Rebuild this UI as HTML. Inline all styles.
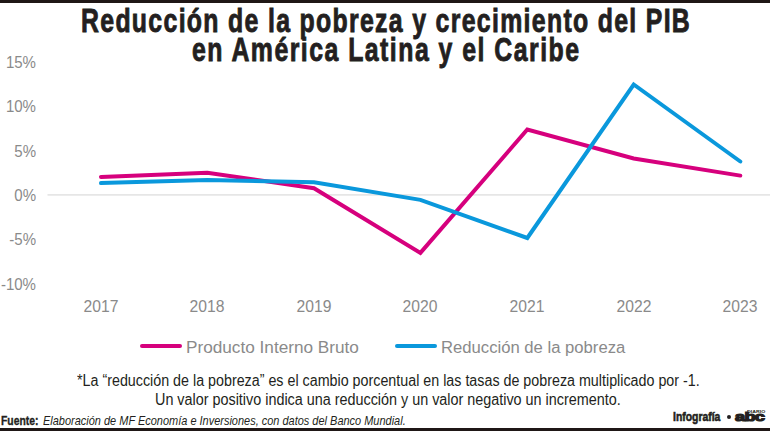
<!DOCTYPE html>
<html><head><meta charset="utf-8">
<style>
html,body{margin:0;padding:0;background:#fff;}
body{width:770px;height:431px;position:relative;overflow:hidden;font-family:"Liberation Sans",Arial,sans-serif;}
.t{position:absolute;white-space:nowrap;transform-origin:0 0;line-height:1;}
.bar{position:absolute;left:0;width:770px;background:#1f1716;}
.title{font-weight:bold;color:#231f20;font-size:34px;-webkit-text-stroke:0.9px #231f20;}
.ay{color:#8a8a8a;font-size:16px;width:60px;text-align:right;transform-origin:100% 0;}
.ax{color:#8a8a8a;font-size:16px;transform-origin:50% 0;}
.lg{color:#8a8a8a;font-size:16px;}
.fn{color:#231f20;font-size:16px;}
.src{color:#231f20;font-size:13px;}
</style></head><body>
<div class="bar" style="top:0;height:3px"></div>
<div class="bar" style="top:428px;height:3px"></div>
<div id="t1" class="t title" style="left:80.5px;top:3.2px;letter-spacing:1.82px;transform:scaleX(0.73)">Reducción de la pobreza y crecimiento del PIB</div>
<div id="t2" class="t title" style="left:191.5px;top:32.4px;letter-spacing:2.04px;transform:scaleX(0.73)">en América Latina y el Caribe</div>
<svg style="position:absolute;left:0;top:0" width="770" height="431">
<line x1="47.5" y1="194.9" x2="770" y2="194.9" stroke="#e6e6e6" stroke-width="1.6"/>
<polyline fill="none" stroke="#d6007d" stroke-width="4" stroke-linecap="round" stroke-linejoin="miter" points="101,176.9 207.3,172.8 314,188.2 420.4,252.9 527.3,129.5 633.7,158.5 740.3,175.6"/>
<polyline fill="none" stroke="#0a98dc" stroke-width="4" stroke-linecap="round" stroke-linejoin="miter" points="101,183.1 207.3,180.0 314,182.2 420.4,199.9 527.3,238.0 633.7,84.5 740.3,161.5"/>
<line x1="142" y1="346" x2="180" y2="346" stroke="#d6007d" stroke-width="4" stroke-linecap="round"/>
<line x1="397" y1="346" x2="435" y2="346" stroke="#0a98dc" stroke-width="4" stroke-linecap="round"/>
</svg>
<div id="y0" class="t ay" style="left:-24.5px;top:54.7px;transform:scaleX(0.94)">15%</div>
<div id="y1" class="t ay" style="left:-24.5px;top:99.1px;transform:scaleX(0.94)">10%</div>
<div id="y2" class="t ay" style="left:-24.5px;top:143.5px;transform:scaleX(0.94)">5%</div>
<div id="y3" class="t ay" style="left:-24.5px;top:187.9px;transform:scaleX(0.94)">0%</div>
<div id="y4" class="t ay" style="left:-24.5px;top:232.3px;transform:scaleX(0.94)">-5%</div>
<div id="y5" class="t ay" style="left:-24.5px;top:276.7px;transform:scaleX(0.94)">-10%</div>
<div id="x2017" class="t ax" style="left:101px;top:299px;transform:translateX(-50%) scaleX(0.98)">2017</div>
<div id="x2018" class="t ax" style="left:207.3px;top:299px;transform:translateX(-50%) scaleX(0.98)">2018</div>
<div id="x2019" class="t ax" style="left:314px;top:299px;transform:translateX(-50%) scaleX(0.98)">2019</div>
<div id="x2020" class="t ax" style="left:420.4px;top:299px;transform:translateX(-50%) scaleX(0.98)">2020</div>
<div id="x2021" class="t ax" style="left:527.3px;top:299px;transform:translateX(-50%) scaleX(0.98)">2021</div>
<div id="x2022" class="t ax" style="left:633.7px;top:299px;transform:translateX(-50%) scaleX(0.98)">2022</div>
<div id="x2023" class="t ax" style="left:740.3px;top:299px;transform:translateX(-50%) scaleX(0.98)">2023</div>
<div id="l1" class="t lg" style="left:186px;top:339.8px;transform:scaleX(1.074)">Producto Interno Bruto</div>
<div id="l2" class="t lg" style="left:441px;top:339.8px;transform:scaleX(1.041)">Reducción de la pobreza</div>
<div id="f1" class="t fn" style="left:76.7px;top:372.6px;transform:scaleX(0.893)">*La “reducción de la pobreza” es el cambio porcentual en las tasas de pobreza multiplicado por -1.</div>
<div id="f2" class="t fn" style="left:155.1px;top:391.6px;transform:scaleX(0.898)">Un valor positivo indica una reducción y un valor negativo un incremento.</div>
<div id="s1a" class="t src" style="left:1.3px;top:414.1px;transform:scaleX(0.796)"><b style="-webkit-text-stroke:0.35px #231f20">Fuente:</b></div>
<div id="s1b" class="t src" style="left:42.8px;top:414.1px;transform:scaleX(0.844)"><i>Elaboración de MF Economía e Inversiones, con datos del Banco Mundial.</i></div>
<div id="s2" class="t src" style="left:673px;top:410.1px;transform:scaleX(0.80)"><b style="-webkit-text-stroke:0.6px #231f20">Infografía</b></div>
<div style="position:absolute;left:726.5px;top:414.5px;width:4.2px;height:4.2px;border-radius:50%;background:#231f20"></div>
<div id="logo" class="t" style="left:735.2px;top:409.8px;font-weight:bold;font-size:13px;color:#231f20;-webkit-text-stroke:1.2px #231f20;letter-spacing:-0.5px;transform:scaleX(1.4)">abc</div>
<div class="t" style="left:747px;top:410.8px;font-weight:bold;font-size:3px;color:#231f20;transform:scaleX(1.75)">DIARIO</div>
</body></html>
